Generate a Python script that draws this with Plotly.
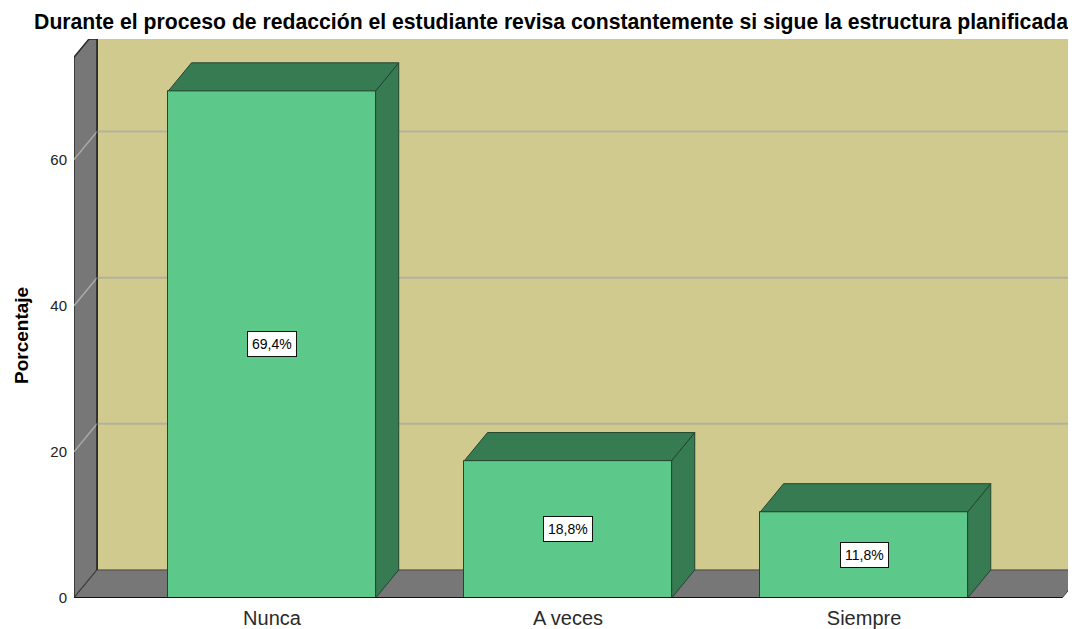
import plotly.graph_objects as go

# ---------------- data ----------------
categories = ["Nunca", "A veces", "Siempre"]
percentages = [69.4, 18.8, 11.8]
value_labels = ["69,4%", "18,8%", "11,8%"]
y_tick_values = [0, 20, 40, 60]
chart_title = ("Durante el proceso de redacción el estudiante revisa "
               "constantemente si sigue la estructura planificada")
y_title = "Porcentaje"

# ---------------- style / geometry ----------------
OFF = 8             # page body margin in the browser
FIG_W, FIG_H = 1076 - OFF, 629 - OFF
M_L, M_T, M_B = 74 - OFF, 39 - OFF, 629 - 598
BAR_W = 0.70
DX = 0.078          # depth shift (category units)
DY = 3.84           # depth shift (value units)
X0, X1 = -0.669, 2.669
XMAX = 2.716
YMAX = 76.5
WALL_H = 74.0

C_BACK = "#D0CA8F"
C_GRAY = "#777777"
C_FRONT = "#5CC98A"
C_SIDE = "#377B53"
C_EDGE = "#24452F"
C_GRID = "#B3B19E"
FONT = "Liberation Sans, Arial"

xs = list(range(len(categories)))

fig = go.Figure()

shapes = []
# back wall
shapes.append(dict(type="rect", xref="x", yref="y", x0=X0 + DX, x1=XMAX + 0.05,
                   y0=DY, y1=YMAX + 1, fillcolor=C_BACK, line=dict(width=0), layer="below"))
# left wall (clipped at top)
t = min(1.0, (YMAX - WALL_H) / DY)
lw = (f"M {X0},0 L {X0 + DX},{DY} L {X0 + DX},{YMAX} "
      f"L {X0 + t * DX},{YMAX} L {X0},{WALL_H} Z")
shapes.append(dict(type="path", xref="x", yref="y", path=lw, fillcolor=C_GRAY,
                   line=dict(color="#2a2a2a", width=1.5), layer="below"))
# floor
fl = f"M {X0},0 L {X1},0 L {X1 + DX},{DY} L {X0 + DX},{DY} Z"
shapes.append(dict(type="path", xref="x", yref="y", path=fl, fillcolor=C_GRAY,
                   line=dict(color="#444444", width=1), layer="below"))
# grid lines
for v in y_tick_values[1:]:
    shapes.append(dict(type="line", xref="x", yref="y", x0=X0, y0=v, x1=X0 + DX, y1=v + DY,
                       line=dict(color="#A9A9A9", width=1.5), layer="below"))
    shapes.append(dict(type="line", xref="x", yref="y", x0=X0 + DX, y0=v + DY, x1=XMAX + 0.05,
                       y1=v + DY, line=dict(color=C_GRID, width=2), layer="below"))
# back edge of left wall
shapes.append(dict(type="line", xref="x", yref="y", x0=X0 + DX, y0=DY, x1=X0 + DX, y1=YMAX + 1,
                   line=dict(color="#222222", width=1), layer="below"))
# front baseline
shapes.append(dict(type="line", xref="x", yref="y", x0=X0, y0=0, x1=X1, y1=0,
                   line=dict(color="#111111", width=2), layer="above"))

# front faces of bars
fig.add_trace(go.Bar(x=xs, y=percentages, width=BAR_W,
                     marker=dict(color=C_FRONT, line=dict(color=C_EDGE, width=1)),
                     hoverinfo="skip", showlegend=False))

# side and top faces
for x, v in zip(xs, percentages):
    l, r = x - BAR_W / 2, x + BAR_W / 2
    side_x = [r, r + DX, r + DX, r, r]
    side_y = [0, DY, v + DY, v, 0]
    top_x = [l, l + DX, r + DX, r, l]
    top_y = [v, v + DY, v + DY, v, v]
    for px, py in ((side_x, side_y), (top_x, top_y)):
        fig.add_trace(go.Scatter(x=px, y=py, mode="lines", fill="toself",
                                 fillcolor=C_SIDE, line=dict(color=C_EDGE, width=1),
                                 hoverinfo="skip", showlegend=False))

pw, ph = FIG_W - M_L, FIG_H - M_T - M_B
annotations = []
for x, v, lab in zip(xs, percentages, value_labels):
    annotations.append(dict(x=x, y=v / 2, xref="x", yref="y", text=lab, showarrow=False,
                            bgcolor="white", bordercolor="#111111", borderwidth=1, borderpad=4,
                            font=dict(family=FONT, size=14, color="black")))
annotations.append(dict(x=(21 - 74) / pw, y=(598 - 336) / ph, xref="paper", yref="paper",
                        text=f"<b>{y_title}</b>", showarrow=False, textangle=-90,
                        xanchor="center", yanchor="middle",
                        font=dict(family=FONT, size=19, color="black")))

fig.update_layout(
    width=FIG_W, height=FIG_H,
    margin=dict(l=M_L, r=0, t=M_T, b=M_B),
    paper_bgcolor="white", plot_bgcolor="white",
    title=dict(text=f"<b>{chart_title}</b>", x=(551 - OFF) / FIG_W, xanchor="center",
               y=1 - (22 - OFF) / FIG_H, yanchor="middle", xref="container", yref="container",
               font=dict(family=FONT, size=21.2, color="black")),
    shapes=shapes,
    annotations=annotations,
    showlegend=False,
    bargap=0,
)

fig.update_xaxes(range=[X0, XMAX], tickvals=xs, ticktext=categories, showgrid=False,
                 zeroline=False, showline=False, ticks="", ticklabelstandoff=6,
                 tickfont=dict(family=FONT, size=20, color="#2a2a2a"))
fig.update_yaxes(range=[0, YMAX], tickvals=y_tick_values, showgrid=False, zeroline=False,
                 showline=False, ticks="", ticklabelstandoff=6,
                 tickfont=dict(family=FONT, size=15, color="#222222"))

fig.write_html("out.html")
